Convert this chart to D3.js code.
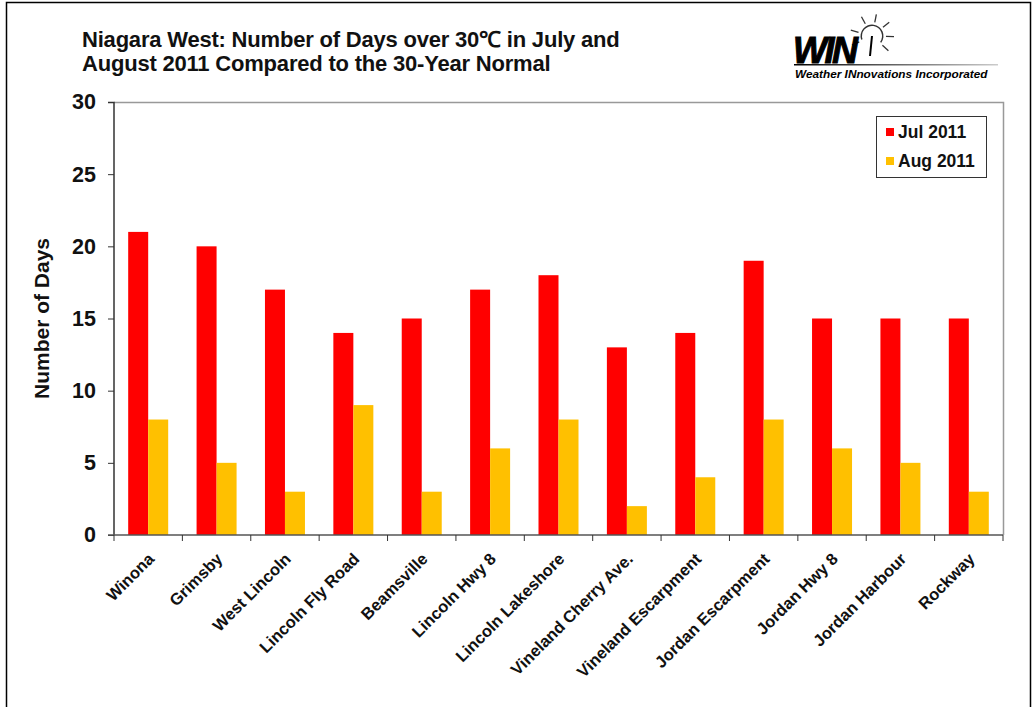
<!DOCTYPE html>
<html>
<head>
<meta charset="utf-8">
<script src="https://cdn.jsdelivr.net/npm/d3@7"></script>
<style>
  body { margin: 0; background: #fff; }
  text { font-family: "Liberation Sans", Arial, sans-serif; }
</style>
</head>
<body>
<div id="chart"></div>
<script>
// station names and day counts
var stations = ["Winona", "Grimsby", "West Lincoln", "Lincoln Fly Road", "Beamsville",
                "Lincoln Hwy 8", "Lincoln Lakeshore", "Vineland Cherry Ave.", "Vineland Escarpment",
                "Jordan Escarpment", "Jordan Hwy 8", "Jordan Harbour", "Rockway"];
var jul2011 = [21, 20, 17, 14, 15, 17, 18, 13, 14, 19, 15, 15, 15];
var aug2011 = [8, 5, 3, 9, 3, 6, 8, 2, 4, 8, 6, 5, 3];
var seriesNames = ["Jul 2011", "Aug 2011"];
var seriesColors = ["#ff0000", "#ffc000"];
var yTicks = [0, 5, 10, 15, 20, 25, 30];

var W = 1034, H = 707;
var margin = {top: 102, right: 31, bottom: 172, left: 114},
    width = W - margin.left - margin.right,
    height = H - margin.top - margin.bottom;

var svg = d3.select("#chart").append("svg")
    .attr("width", W)
    .attr("height", H);

// outer frame
svg.append("rect")
    .attr("x", 6.5).attr("y", 2.5)
    .attr("width", 1024).attr("height", 730)
    .attr("fill", "none").attr("stroke", "#000").attr("stroke-width", 1.5);

// title
var title = svg.append("text")
    .attr("x", 82).attr("y", 47)
    .attr("font-size", 22).attr("font-weight", "bold")
    .attr("letter-spacing", -0.2)
    .attr("fill", "#111");
title.append("tspan").attr("x", 82).attr("dy", 0).text("Niagara West: Number of Days over 30\u2103 in July and");
title.append("tspan").attr("x", 82).attr("dy", 24).text("August 2011 Compared to the 30-Year Normal");

// logo
var logo = svg.append("g");
var sun = {x: 872, y: 36};
logo.append("path")
    .attr("d", d3.arc().innerRadius(10).outerRadius(11.5).startAngle(-1.9).endAngle(2.2)())
    .attr("transform", "translate(" + sun.x + "," + sun.y + ")")
    .attr("fill", "#333");
[-2.0, -1.3, -0.5, 0.2, 0.9, 1.6, 2.3].forEach(function(a) {
  logo.append("line")
      .attr("x1", sun.x + Math.sin(a) * 14).attr("y1", sun.y - Math.cos(a) * 14)
      .attr("x2", sun.x + Math.sin(a) * 22).attr("y2", sun.y - Math.cos(a) * 22)
      .attr("stroke", "#333").attr("stroke-width", 1.3);
});
logo.append("line")
    .attr("x1", sun.x).attr("y1", sun.y)
    .attr("x2", sun.x - 2).attr("y2", 56)
    .attr("stroke", "#000").attr("stroke-width", 2);
logo.append("text")
    .attr("x", 793).attr("y", 63)
    .attr("font-size", 36).attr("font-weight", "bold").attr("font-style", "italic")
    .attr("letter-spacing", -2.5)
    .attr("stroke", "#000").attr("stroke-width", 1)
    .attr("fill", "#000")
    .text("WIN");
var grad = svg.append("defs").append("linearGradient").attr("id", "fade");
grad.append("stop").attr("offset", "0%").attr("stop-color", "#000");
grad.append("stop").attr("offset", "100%").attr("stop-color", "#ccc");
logo.append("rect")
    .attr("x", 794).attr("y", 64).attr("width", 204).attr("height", 1.5)
    .attr("fill", "url(#fade)");
logo.append("text")
    .attr("x", 795).attr("y", 78)
    .attr("font-size", 11.8).attr("font-weight", "bold").attr("font-style", "italic")
    .attr("fill", "#000")
    .text("Weather INnovations Incorporated");

var g = svg.append("g")
    .attr("transform", "translate(" + margin.left + "," + margin.top + ")");

var x0 = d3.scaleBand().domain(stations).range([0, width]).paddingInner(0).paddingOuter(0);
var x1 = d3.scaleBand().domain(seriesNames).range([0, 40]);
var y = d3.scaleLinear().domain([0, 30]).range([height, 0]);

// plot area border (top and right)
g.append("path")
    .attr("d", "M0,0.5H" + (width + 0.5) + "V" + height)
    .attr("fill", "none").attr("stroke", "#999").attr("stroke-width", 1.5);

// bars
var off = (x0.bandwidth() - 40) / 2;
var groups = g.selectAll(".station")
    .data(stations)
    .enter().append("g")
    .attr("class", "station")
    .attr("transform", function(d) { return "translate(" + (x0(d) + off) + ",0)"; });

groups.selectAll("rect")
    .data(function(d, i) { return [jul2011[i], aug2011[i]].map(function(v, k) { return {s: seriesNames[k], v: v, c: seriesColors[k]}; }); })
    .enter().append("rect")
    .attr("x", function(d) { return x1(d.s); })
    .attr("y", function(d) { return y(d.v); })
    .attr("width", x1.bandwidth())
    .attr("height", function(d) { return height - y(d.v); })
    .attr("fill", function(d) { return d.c; });

// y axis
var yAxis = g.append("g")
    .call(d3.axisLeft(y).tickValues(yTicks).tickSize(6).tickPadding(12));
yAxis.select(".domain").attr("stroke", "#333").attr("stroke-width", 1.5).attr("d", "M-6,0.5H0V" + height);
yAxis.selectAll(".tick line").attr("stroke", "#333");
yAxis.selectAll(".tick text")
    .attr("font-size", 21.5).attr("font-weight", "bold").attr("fill", "#111")
    .attr("font-family", "Liberation Sans, Arial, sans-serif");

// x axis, ticks at category boundaries
var xAxis = g.append("g").attr("transform", "translate(0," + height + ")");
xAxis.append("line")
    .attr("x1", -6).attr("x2", width)
    .attr("stroke", "#555").attr("stroke-width", 1.5);
xAxis.selectAll(".bt")
    .data(d3.range(stations.length + 1))
    .enter().append("line")
    .attr("x1", function(i) { return i * x0.step(); })
    .attr("x2", function(i) { return i * x0.step(); })
    .attr("y1", 0).attr("y2", 6)
    .attr("stroke", "#333");
xAxis.selectAll(".lbl")
    .data(stations)
    .enter().append("text")
    .attr("transform", function(d) {
      return "translate(" + (x0(d) + x0.bandwidth() / 2 + 7) + ",25) rotate(-45)";
    })
    .attr("text-anchor", "end")
    .attr("font-size", 16.5).attr("font-weight", "bold").attr("fill", "#111")
    .text(function(d) { return d; });

// y label
svg.append("text")
    .attr("transform", "translate(49," + (margin.top + height / 2) + ") rotate(-90)")
    .attr("text-anchor", "middle")
    .attr("font-size", 21).attr("font-weight", "bold").attr("fill", "#111")
    .text("Number of Days");

// legend
var legend = svg.append("g").attr("transform", "translate(876,116)");
legend.append("rect")
    .attr("x", 0.5).attr("y", 0.5).attr("width", 110).attr("height", 61)
    .attr("fill", "#fff").attr("stroke", "#333");
seriesNames.forEach(function(name, i) {
  legend.append("rect")
      .attr("x", 10).attr("y", 12 + i * 29).attr("width", 8).attr("height", 8)
      .attr("fill", seriesColors[i]);
  legend.append("text")
      .attr("x", 22).attr("y", 22 + i * 29)
      .attr("font-size", 17.5).attr("font-weight", "bold").attr("fill", "#111")
      .text(name);
});
</script>
</body>
</html>
